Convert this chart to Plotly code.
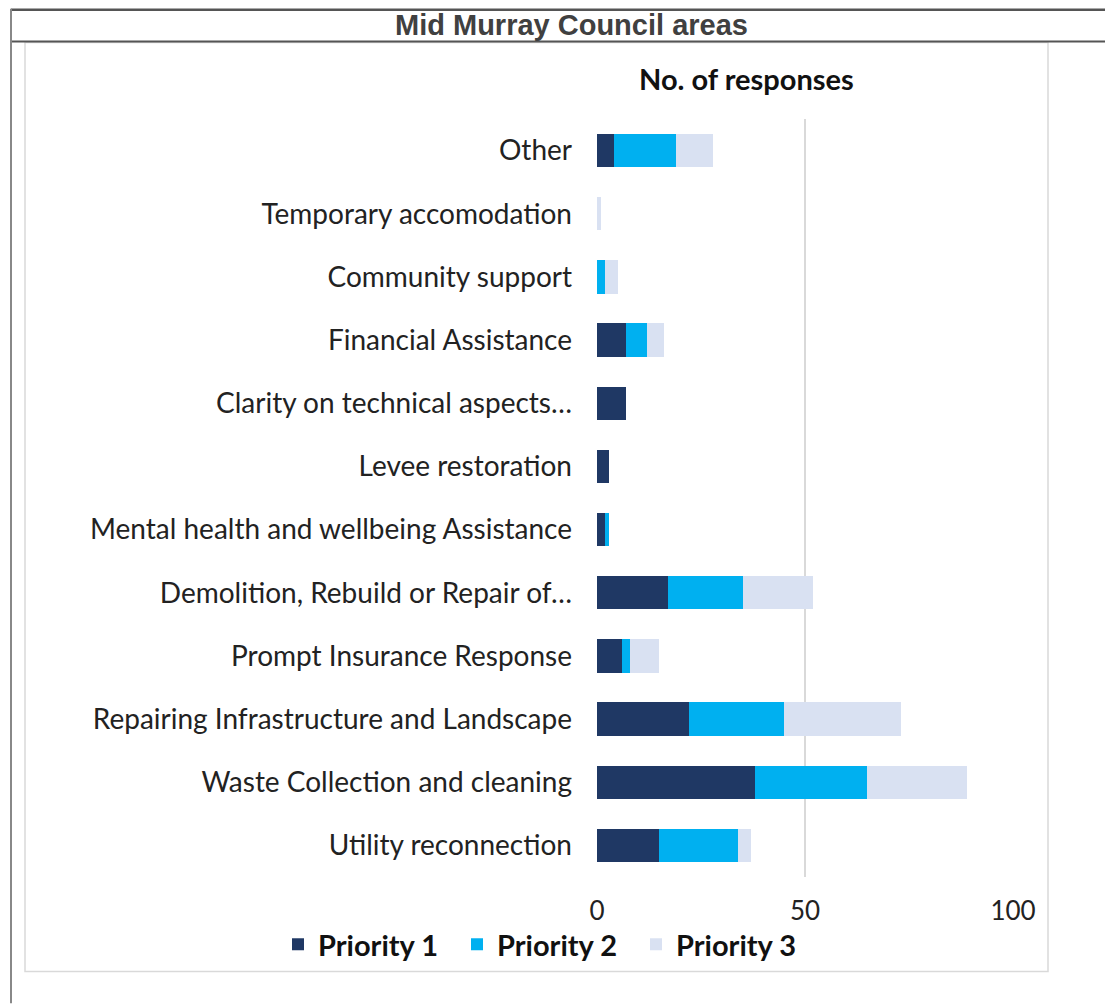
import plotly.graph_objects as go

categories = [
    "Other",
    "Temporary accomodation",
    "Community support",
    "Financial Assistance",
    "Clarity on technical aspects…",
    "Levee restoration",
    "Mental health and wellbeing Assistance",
    "Demolition, Rebuild or Repair of…",
    "Prompt Insurance Response",
    "Repairing Infrastructure and Landscape",
    "Waste Collection and cleaning",
    "Utility reconnection",
]
priority1 = [4, 0, 0, 7, 7, 3, 2, 17, 6, 22, 38, 15]
priority2 = [15, 0, 2, 5, 0, 0, 1, 18, 2, 23, 27, 19]
priority3 = [9, 1, 3, 4, 0, 0, 0, 17, 7, 28, 24, 3]
series_names = ["Priority 1", "Priority 2", "Priority 3"]
series_colors = ["#1f3864", "#00b0f0", "#d9e1f2"]
x_ticks = [0, 50, 100]

# page body has an 8px margin; screen coords below are converted to figure coords
OFF = 8
W, H = 1113 - OFF, 1004 - OFF
L, R, T, B = 597 - OFF, 1013 - OFF, 118.5 - OFF, 877.5 - OFF

def px(x):
    return (x - OFF - L) / (R - L)

def py(y):
    return (B - (y - OFF)) / (B - T)

FONT = "Lato, 'Open Sans', sans-serif"

fig = go.Figure()
for name, vals, col in zip(series_names, [priority1, priority2, priority3], series_colors):
    fig.add_trace(go.Bar(
        y=categories, x=vals, name="<b>" + name + "</b>", orientation="h",
        marker=dict(color=col, line=dict(width=0)),
    ))

P = dict(xref="paper", yref="paper")
shapes = [
    dict(type="line", x0=px(11), x1=px(1113), y0=py(9.2), y1=py(9.2),
         line=dict(color="#555555", width=2.5), **P),
    dict(type="line", x0=px(11), x1=px(1113), y0=py(41), y1=py(41),
         line=dict(color="#555555", width=2), **P),
    dict(type="line", x0=px(11), x1=px(11), y0=py(8), y1=py(1004),
         line=dict(color="#888888", width=2), **P),
    dict(type="rect", x0=px(25), x1=px(1048), y0=py(42), y1=py(972),
         line=dict(color="#d9d9d9", width=1.5), fillcolor="rgba(0,0,0,0)", layer="below", **P),
]

annotations = [
    dict(text="<b>Mid Murray Council areas</b>", x=px(571), y=py(24), **P,
         showarrow=False, xanchor="center", yanchor="middle",
         font=dict(family="'Liberation Sans', Arial, sans-serif", size=29, color="#404040")),
    dict(text="<b>No. of responses</b>", x=px(746), y=py(78), **P,
         showarrow=False, xanchor="center", yanchor="middle",
         font=dict(family=FONT, size=29, color="#111111")),
]

fig.update_layout(
    width=W, height=H,
    margin=dict(l=L, r=W - R, t=T, b=H - B, pad=0),
    paper_bgcolor="white", plot_bgcolor="white",
    barmode="stack", bargap=0.47,
    font=dict(family=FONT, size=28, color="#222222"),
    showlegend=True,
    legend=dict(orientation="h", x=px(278), y=py(945), xanchor="left", yanchor="middle",
                font=dict(family=FONT, size=29, color="#111111"),
                traceorder="normal", itemwidth=30, entrywidth=134, entrywidthmode="pixels",
                bgcolor="rgba(0,0,0,0)"),
    shapes=shapes,
    annotations=annotations,
    xaxis=dict(range=[0, 100], tickvals=x_ticks, showgrid=True, gridcolor="#d9d9d9", gridwidth=1.5,
               zeroline=False, showline=False, ticks="", ticklabelstandoff=16,
               tickfont=dict(size=26, color="#222222"), fixedrange=True),
    yaxis=dict(autorange="reversed", type="category", showgrid=False, showline=False, ticks="",
               ticklabelstandoff=24, tickfont=dict(size=28, color="#222222"), fixedrange=True),
)

fig.write_html("out.html")
